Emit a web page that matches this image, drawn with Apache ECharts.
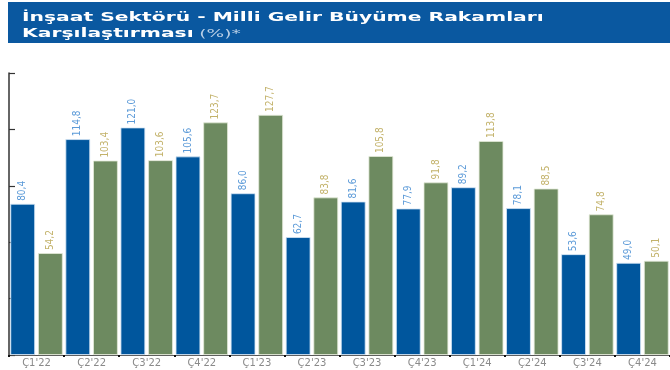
<!DOCTYPE html>
<html>
<head>
<meta charset="utf-8">
<script src="https://cdn.jsdelivr.net/npm/echarts@6/dist/echarts.min.js"></script>
<style>
html,body{margin:0;padding:0;background:#fff;}
#c{width:670px;height:370px;}
</style>
</head>
<body>
<div id="c"></div>
<script>
var categories = ["Ç1'22","Ç2'22","Ç3'22","Ç4'22","Ç1'23","Ç2'23","Ç3'23","Ç4'23","Ç1'24","Ç2'24","Ç3'24","Ç4'24"];
var milliGelir = [80.4,114.8,121.0,105.6,86.0,62.7,81.6,77.9,89.2,78.1,53.6,49.0];
var insaat = [54.2,103.4,103.6,123.7,127.7,83.8,105.8,91.8,113.8,88.5,74.8,50.1];
var yTicks = [0,30,60,90,120,150];

var chart = echarts.init(document.getElementById('c'), null, {renderer:'canvas'});
function fmt(p){ return p.value.toFixed(1).replace('.', ','); }
chart.setOption({
  animation:false,
  backgroundColor:'#fff',
  graphic:[
    {type:'rect', shape:{x:8,y:2,width:662,height:41}, style:{fill:'#0a58a0'}},
    {type:'text', x:22, y:10, scaleX:1.69, style:{
      text:'{b|İnşaat Sektörü - Milli Gelir Büyüme Rakamları}\n{b|Karşılaştırması} {n|(%)*}',
      rich:{
        b:{fill:'#fff', font:'bold 12px "DejaVu Sans"', lineHeight:16},
        n:{fill:'#b9cfe6', font:'11px "DejaVu Sans"', lineHeight:16}
      }
    }}
  ],
  grid:{left:9, top:73, height:282, width:668},
  xAxis:{
    type:'category', data:categories,
    axisLine:{show:true, lineStyle:{color:'#555', width:1}},
    axisTick:{show:true, length:2, lineStyle:{color:'#111', width:2}},
    axisLabel:{color:'#8a8a8a', fontSize:10, fontFamily:'"DejaVu Sans"', margin:3}
  },
  yAxis:{
    type:'value', min:yTicks[0], max:yTicks[yTicks.length-1], interval:30,
    axisLine:{show:true, lineStyle:{color:'#333', width:1.5}},
    axisTick:{show:true, inside:true, length:6, lineStyle:{color:'#333', width:1.2}},
    axisLabel:{show:false},
    splitLine:{show:false}
  },
  series:[
    {type:'bar', name:'Milli Gelir', data:milliGelir, barGap:'12%', barCategoryGap:'5%',
     itemStyle:{color:'#00569d', borderColor:'#d6e6f5', borderWidth:0.8},
     label:{show:true, position:'top', rotate:90, align:'left', verticalAlign:'middle', distance:3,
       formatter:fmt, color:'#5b9ad8', fontSize:10, fontFamily:'"Liberation Sans Narrow","DejaVu Sans Condensed","Liberation Sans"'}},
    {type:'bar', name:'İnşaat', data:insaat,
     itemStyle:{color:'#6d8a60', borderColor:'#e3ead8', borderWidth:0.8},
     label:{show:true, position:'top', rotate:90, align:'left', verticalAlign:'middle', distance:3,
       formatter:fmt, color:'#c3b26a', fontSize:10, fontFamily:'"Liberation Sans Narrow","DejaVu Sans Condensed","Liberation Sans"'}}
  ]
});
</script>
</body>
</html>
